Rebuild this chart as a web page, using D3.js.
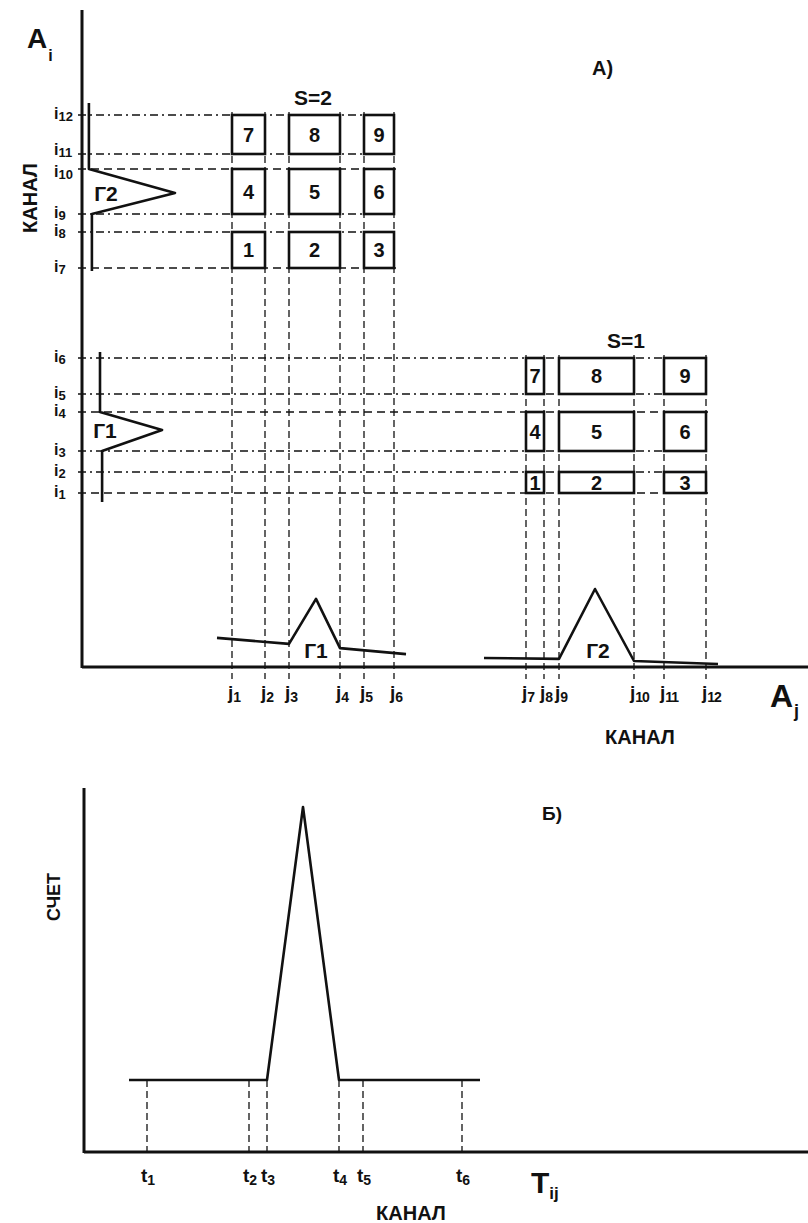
<!DOCTYPE html>
<html>
<head>
<meta charset="utf-8">
<script src="https://cdn.jsdelivr.net/npm/d3@7"></script>
<style>
  body { margin: 0; background: #fff; }
  svg { display: block; }
  text { font-family: 'Liberation Sans', Arial, sans-serif; font-weight: bold; fill: #111; }
</style>
</head>
<body>
<div id="chart"></div>
<script>
'use strict';

/* global d3 */

// channel levels on the A_i axis (i1..i12) and A_j axis (j1..j12)
var iLevels = [58, 65, 72, 85, 91, 103, 133, 145, 151, 166, 171, 184];
var jLevels = [50, 61, 69, 86, 94, 104, 148, 154, 159, 184, 194, 208];
var boxNumbers = [1, 2, 3, 4, 5, 6, 7, 8, 9];
var sGroups = [1, 2];

// spectra: [channel, counts]
var gamma1X = [[45, 9.7], [69, 7.7], [78, 22.7], [86, 6.3], [108, 4.3]];
var gamma2X = [[134, 3], [159, 2.7], [171, 26], [184, 2], [212, 1]];
var gamma1Y = [[105, 6], [85, 6], [79, 26.7], [72, 6.7], [55, 6.7]];
var gamma2Y = [[188, 2.3], [166, 2.3], [158, 31], [151, 3.3], [132, 3.3]];

// lower panel: time spectrum T_ij
var tLevels = [21, 55, 61, 85, 93, 126];
var spectrumT = [[15, 24], [61, 24], [73, 115], [85, 24], [132, 24]];

var width = 808;
var height = 1223;

var svg = d3.select('#chart').append('svg').attr('width', width).attr('height', height);

// ---------- upper panel (А) ----------
var x = d3.scaleLinear().domain([0, 240]).range([82, 802]);
var y = d3.scaleLinear().domain([0, 220]).range([667, 7]);
var xc = d3.scaleLinear().domain([0, 240]).range([0, 720]); // counts on the A_i profile

var topPanel = svg.append('g').attr('id', 'topPanel');

// dashed guides
topPanel.selectAll('line.h-guide').data(iLevels).enter().append('line')
	.attr('class', 'h-guide')
	.attr('x1', x(0) - 4)
	.attr('x2', function (d, k) {
		return x(jLevels[k < 6 ? 11 : 5]) + 2;
	})
	.attr('y1', function (d) { return y(d); })
	.attr('y2', function (d) { return y(d); })
	.attr('stroke', '#111').attr('stroke-width', 1.3)
	.attr('stroke-dasharray', function (d, k) {
		return k % 3 === 0 ? '8,5' : '8,4,2,4';
	});

topPanel.selectAll('line.v-guide').data(jLevels).enter().append('line')
	.attr('class', 'v-guide')
	.attr('x1', function (d) { return x(d); })
	.attr('x2', function (d) { return x(d); })
	.attr('y1', function (d, k) {
		return y(iLevels[k < 6 ? 11 : 5]) - 3;
	})
	.attr('y2', y(0) + 12)
	.attr('stroke', '#111').attr('stroke-width', 1.3)
	.attr('stroke-dasharray', '7,4');

// boxes
sGroups.forEach(function (s) {
	var iOff = s === 1 ? 0 : 6;
	var jOff = s === 1 ? 6 : 0;
	var g = topPanel.append('g').attr('class', 'boxes-s' + s);
	var cell = g.selectAll('g.cell').data(boxNumbers).enter().append('g').attr('class', 'cell');
	function bx0(k) { return x(jLevels[jOff + 2 * ((k - 1) % 3)]); }
	function bx1(k) { return x(jLevels[jOff + 2 * ((k - 1) % 3) + 1]); }
	function by0(k) { return y(iLevels[iOff + 2 * Math.floor((k - 1) / 3) + 1]); }
	function by1(k) { return y(iLevels[iOff + 2 * Math.floor((k - 1) / 3)]); }
	cell.append('rect')
		.attr('x', bx0)
		.attr('y', by0)
		.attr('width', function (k) { return bx1(k) - bx0(k); })
		.attr('height', function (k) { return by1(k) - by0(k); })
		.attr('fill', 'none').attr('stroke', '#111').attr('stroke-width', 2.6);
	cell.append('text')
		.attr('x', function (k) { return (bx0(k) + bx1(k)) / 2; })
		.attr('y', function (k) { return (by0(k) + by1(k)) / 2 + 7; })
		.attr('text-anchor', 'middle')
		.attr('font-size', 20)
		.text(function (k) { return k; });
	g.append('text')
		.attr('x', (bx0(1) + bx1(3)) / 2 + (s === 1 ? 10 : 0))
		.attr('y', by0(7) - 10)
		.attr('text-anchor', 'middle')
		.attr('font-size', 21)
		.text('S=' + s);
});

// spectra along the axes
var lineX = d3.line().x(function (d) { return x(d[0]); }).y(function (d) { return y(d[1]); });
var lineY = d3.line().x(function (d) { return x(0) + xc(d[1]); }).y(function (d) { return y(d[0]); });

[gamma1X, gamma2X].forEach(function (data) {
	topPanel.append('path').attr('d', lineX(data))
		.attr('fill', 'none').attr('stroke', '#111').attr('stroke-width', 2.6).attr('stroke-linejoin', 'round');
});
[gamma1Y, gamma2Y].forEach(function (data) {
	topPanel.append('path').attr('d', lineY(data))
		.attr('fill', 'none').attr('stroke', '#111').attr('stroke-width', 2.6).attr('stroke-linejoin', 'round');
});

topPanel.append('text').attr('x', x(78)).attr('y', y(0) - 9).attr('text-anchor', 'middle').attr('font-size', 21).text('Г1');
topPanel.append('text').attr('x', x(172)).attr('y', y(0) - 9).attr('text-anchor', 'middle').attr('font-size', 21).text('Г2');
topPanel.append('text').attr('x', x(0) + 23).attr('y', y(79) + 8).attr('text-anchor', 'middle').attr('font-size', 21).text('Г1');
topPanel.append('text').attr('x', x(0) + 24).attr('y', y(158) + 8).attr('text-anchor', 'middle').attr('font-size', 21).text('Г2');

// axes
topPanel.append('line').attr('x1', x(0)).attr('x2', x(0)).attr('y1', 10).attr('y2', y(0) + 1)
	.attr('stroke', '#111').attr('stroke-width', 3);
topPanel.append('line').attr('x1', x(0)).attr('x2', width).attr('y1', y(0)).attr('y2', y(0))
	.attr('stroke', '#111').attr('stroke-width', 3);

// tick labels; labels of levels that sit very close together are pushed apart a little
function labelNudge(k) {
	var shift = 0;
	if (k > 0 && y(iLevels[k - 1]) - y(iLevels[k]) < 16) {
		shift -= 3;
	}
	if (k < iLevels.length - 1 && y(iLevels[k]) - y(iLevels[k + 1]) < 16) {
		shift += 4;
	}
	return shift;
}

var iLab = topPanel.selectAll('text.i-label').data(iLevels).enter().append('text')
	.attr('class', 'i-label')
	.attr('x', 54)
	.attr('y', function (d, k) { return y(d) + 4 + labelNudge(k); })
	.attr('font-size', 16);
iLab.append('tspan').text('i');
iLab.append('tspan').attr('font-size', 13).attr('dy', 2).text(function (d, k) { return k + 1; });

var jLab = topPanel.selectAll('text.j-label').data(jLevels).enter().append('text')
	.attr('class', 'j-label')
	.attr('x', function (d) { return x(d) - 4; })
	.attr('y', y(0) + 32)
	.attr('font-size', 19);
jLab.append('tspan').text('j');
jLab.append('tspan').attr('font-size', 14).attr('dy', 3).attr('letter-spacing', -1).text(function (d, k) { return k + 1; });

// titles
var ai = topPanel.append('text').attr('x', 27).attr('y', 48).attr('font-size', 28);
ai.append('tspan').text('A');
ai.append('tspan').attr('font-size', 16).attr('dy', 13).attr('dx', 1).text('i');
var aj = topPanel.append('text').attr('x', 770).attr('y', 707).attr('font-size', 32);
aj.append('tspan').text('A');
aj.append('tspan').attr('font-size', 18).attr('dy', 10).attr('dx', 1).text('j');

topPanel.append('text').attr('x', 592).attr('y', 75).attr('font-size', 20).text('А)');
topPanel.append('text').attr('x', 640).attr('y', 744).attr('text-anchor', 'middle').attr('font-size', 20).text('КАНАЛ');
topPanel.append('text').attr('transform', 'translate(37,198) rotate(-90)').attr('text-anchor', 'middle')
	.attr('font-size', 20).text('КАНАЛ');

// ---------- lower panel (Б) ----------
var tx = d3.scaleLinear().domain([0, 240]).range([84, 804]);
var ty = d3.scaleLinear().domain([0, 120]).range([1152, 792]);

var bottomPanel = svg.append('g').attr('id', 'bottomPanel');

bottomPanel.selectAll('line.t-guide').data(tLevels).enter().append('line')
	.attr('class', 't-guide')
	.attr('x1', function (d) { return tx(d); })
	.attr('x2', function (d) { return tx(d); })
	.attr('y1', ty(spectrumT[0][1]))
	.attr('y2', ty(0))
	.attr('stroke', '#111').attr('stroke-width', 1.3)
	.attr('stroke-dasharray', '7,4');

var lineT = d3.line().x(function (d) { return tx(d[0]); }).y(function (d) { return ty(d[1]); });
bottomPanel.append('path').attr('d', lineT(spectrumT))
	.attr('fill', 'none').attr('stroke', '#111').attr('stroke-width', 2.6).attr('stroke-linejoin', 'round');

bottomPanel.append('line').attr('x1', tx(0)).attr('x2', tx(0)).attr('y1', 788).attr('y2', ty(0) + 1)
	.attr('stroke', '#111').attr('stroke-width', 3);
bottomPanel.append('line').attr('x1', tx(0)).attr('x2', width).attr('y1', ty(0)).attr('y2', ty(0))
	.attr('stroke', '#111').attr('stroke-width', 3);

var tLab = bottomPanel.selectAll('text.t-label').data(tLevels).enter().append('text')
	.attr('class', 't-label')
	.attr('x', function (d) { return tx(d) - 6; })
	.attr('y', ty(0) + 30)
	.attr('font-size', 19);
tLab.append('tspan').text('t');
tLab.append('tspan').attr('font-size', 14).attr('dy', 3).text(function (d, k) { return k + 1; });

var tij = bottomPanel.append('text').attr('x', 531).attr('y', 1193).attr('font-size', 30);
tij.append('tspan').text('T');
tij.append('tspan').attr('font-size', 17).attr('dy', 6).text('ij');

bottomPanel.append('text').attr('x', 542).attr('y', 820).attr('font-size', 19).text('Б)');
bottomPanel.append('text').attr('x', 411).attr('y', 1220).attr('text-anchor', 'middle').attr('font-size', 20).text('КАНАЛ');
bottomPanel.append('text').attr('transform', 'translate(60,897) rotate(-90)').attr('text-anchor', 'middle')
	.attr('font-size', 18).text('СЧЕТ');
</script>
</body>
</html>
